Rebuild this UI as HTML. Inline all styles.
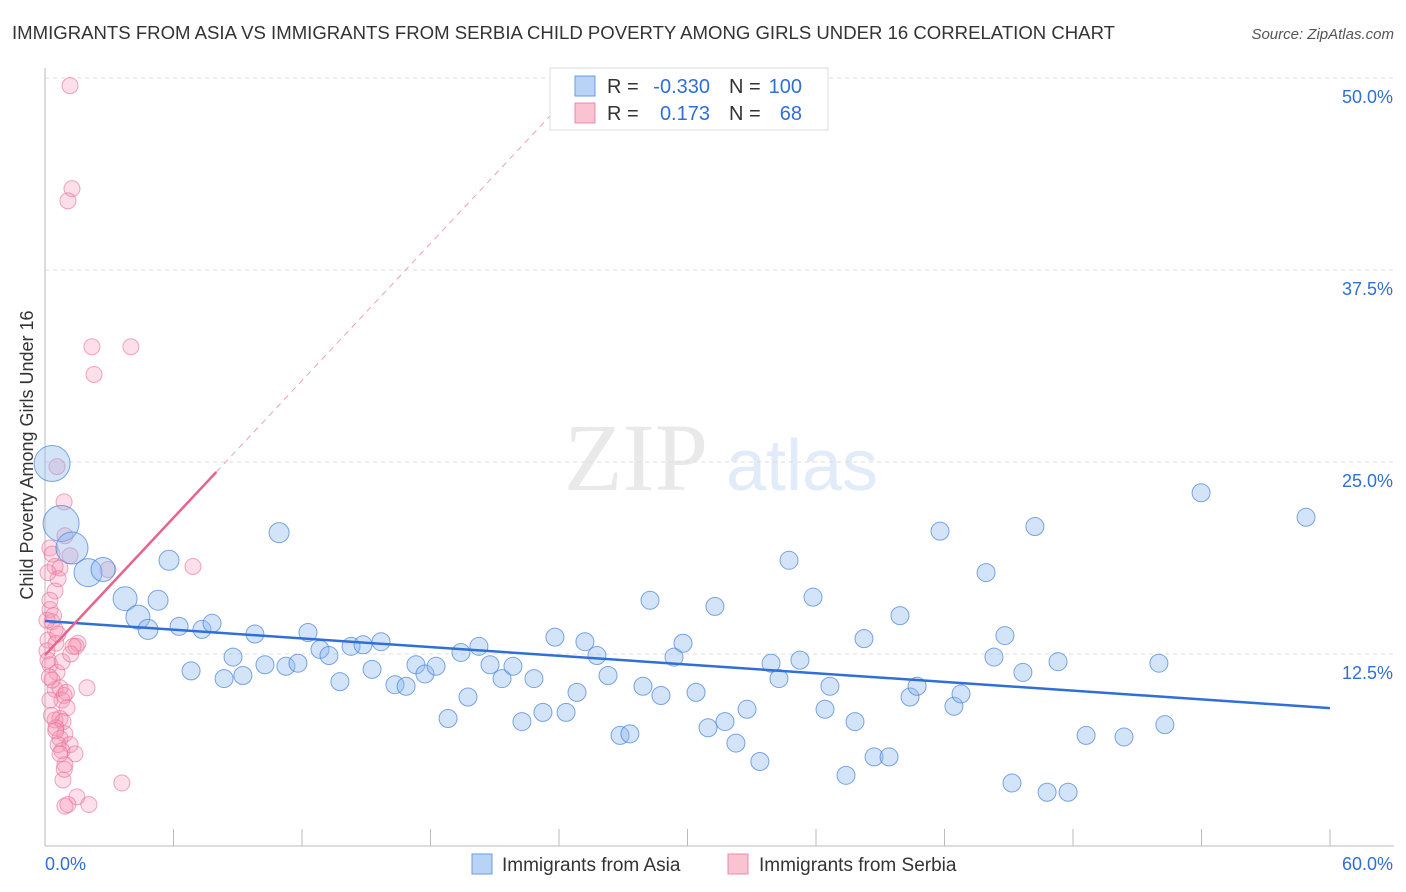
<!DOCTYPE html>
<html><head><meta charset="utf-8"><style>
body{margin:0;background:#fff;font-family:"Liberation Sans",sans-serif}
svg{display:block}
</style></head><body>
<svg id="chart" width="1406" height="892" xmlns="http://www.w3.org/2000/svg" font-family="Liberation Sans, sans-serif">
<text x="12" y="39" font-size="18" fill="#333" textLength="1103" lengthAdjust="spacingAndGlyphs">IMMIGRANTS FROM ASIA VS IMMIGRANTS FROM SERBIA CHILD POVERTY AMONG GIRLS UNDER 16 CORRELATION CHART</text>
<text x="1394" y="39" font-size="15" fill="#555" font-style="italic" text-anchor="end">Source: ZipAtlas.com</text>
<g opacity="0.25">
<text x="636" y="490" font-size="96" font-family="Liberation Serif, serif" fill="#aaa" text-anchor="middle">ZIP</text>
<text x="802" y="490" font-size="72" fill="#8ab4e8" text-anchor="middle">atlas</text>
</g>
<text transform="translate(33,455) rotate(-90)" font-size="18" fill="#333" text-anchor="middle">Child Poverty Among Girls Under 16</text>
<g id="grid"></g><g id="axes"></g><g id="pink"></g><g id="blue"></g><g id="lines"></g>
<g>
<rect x="550" y="68" width="278" height="62" fill="#fff" stroke="#ddd"/>
<rect x="575" y="76" width="20" height="20" fill="#b8d3f5" stroke="#6a9de0"/>
<rect x="575" y="103" width="20" height="20" fill="#f9c3d2" stroke="#ec8aa8"/>
<text x="607" y="93" font-size="20" fill="#333">R =</text>
<text x="710" y="93" font-size="20" fill="#2f6fd6" text-anchor="end">-0.330</text>
<text x="729" y="93" font-size="20" fill="#333">N =</text>
<text x="802" y="93" font-size="20" fill="#2f6fd6" text-anchor="end">100</text>
<text x="607" y="120" font-size="20" fill="#333">R =</text>
<text x="710" y="120" font-size="20" fill="#2f6fd6" text-anchor="end">0.173</text>
<text x="729" y="120" font-size="20" fill="#333">N =</text>
<text x="802" y="120" font-size="20" fill="#2f6fd6" text-anchor="end">68</text>
</g>
<g>
<rect x="472" y="854" width="20" height="20" fill="#b8d3f5" stroke="#6a9de0"/>
<text x="502" y="871" font-size="19" fill="#333">Immigrants from Asia</text>
<rect x="728" y="854" width="20" height="20" fill="#f9c3d2" stroke="#ec8aa8"/>
<text x="759" y="871" font-size="19" fill="#333">Immigrants from Serbia</text>
</g>
</svg>
<script>
const xTicks=[0,6,12,18,24,30,36,42,48,54,60];
const yTicks=[12.5,25,37.5,50];
const yTickLabels=["12.5%","25.0%","37.5%","50.0%"];
const blueX=[0.33,0.75,1.26,2.01,2.71,3.74,4.34,4.81,5.28,5.79,6.26,6.82,7.33,7.80,8.36,8.78,9.24,9.80,10.27,10.93,11.25,11.81,12.28,12.84,13.26,13.77,14.29,14.85,15.27,15.69,16.34,16.86,17.32,17.74,18.26,18.82,19.42,19.75,20.26,20.78,21.34,21.85,22.27,22.83,23.25,23.81,24.33,24.84,25.21,25.77,26.29,26.85,27.31,27.92,28.25,28.76,29.37,29.79,30.40,30.96,31.28,31.75,32.26,32.78,33.38,33.90,34.27,34.74,35.25,35.86,36.42,36.65,37.82,37.40,38.24,38.71,39.41,39.92,40.39,40.72,41.79,42.44,42.77,43.94,44.31,44.82,45.15,45.66,46.22,46.79,47.30,47.77,48.61,50.38,52.01,52.29,53.98,58.88];
const blueY=[24.9,21.0,19.4,17.8,18.0,16.1,14.9,14.1,16.0,18.6,14.3,11.4,14.1,14.5,10.9,12.3,11.1,13.8,11.8,20.4,11.7,11.9,13.9,12.8,12.4,10.7,13.0,13.1,11.5,13.3,10.5,10.4,11.8,11.2,11.7,8.3,12.6,9.7,13.0,11.8,10.9,11.7,8.1,10.9,8.7,13.6,8.7,10.0,13.3,12.4,11.1,7.2,7.3,10.4,16.0,9.8,12.3,13.2,10.0,7.7,15.6,8.1,6.7,8.9,5.5,11.9,10.9,18.6,12.1,16.2,8.9,10.4,8.1,4.6,13.5,5.8,5.8,15.0,9.7,10.4,20.5,9.1,9.9,17.8,12.3,13.7,4.1,11.3,20.8,3.5,12.0,3.5,7.2,7.1,11.9,7.9,23.0,21.4];
const blueR=[18,18,16,14,12,12,12,10,10,10,9,9,9,9,9,9,9,9,9,10,9,9,9,9,9,9,9,9,9,9,9,9,9,9,9,9,9,9,9,9,9,9,9,9,9,9,9,9,9,9,9,9,9,9,9,9,9,9,9,9,9,9,9,9,9,9,9,9,9,9,9,9,9,9,9,9,9,9,9,9,9,9,9,9,9,9,9,9,9,9,9,9,9,9,9,9,9,9];
const pinkX=[1.17,1.26,1.07,2.19,4.01,2.29,0.56,0.89,0.23,0.33,0.47,0.7,0.61,0.47,0.23,0.33,0.47,0.14,0.51,0.09,1.54,1.45,1.31,6.91,2.94,0.23,0.56,0.47,0.7,1.96,0.89,0.79,1.03,0.47,0.7,0.84,0.51,0.93,0.7,0.61,1.17,0.79,1.4,0.93,0.84,3.59,1.49,0.93,1.07,2.05,0.23,0.33,0.14,0.23,0.09,0.14,1.17,0.93,0.4,0.6,0.8,1.0,0.3,0.5,0.7,0.9,1.2,0.2];
const pinkY=[49.5,42.8,42.0,32.5,32.5,30.7,24.7,22.4,19.4,19.0,18.2,18.1,17.4,16.6,15.4,14.6,14.1,13.4,13.2,12.7,13.2,13.0,13.0,18.2,18.0,11.8,11.3,10.2,10.3,10.3,9.8,9.5,9.0,8.2,8.3,8.1,7.7,7.3,7.0,6.6,6.6,6.2,6.0,5.3,4.3,4.1,3.2,2.6,2.7,2.7,9.5,10.8,12.1,16.0,14.7,17.8,18.9,20.2,15.0,13.8,12.0,10.0,8.5,7.5,6.0,5.0,12.5,11.0];
const blueLine=[[0,14.65],[60,8.98]];
const pinkSolid=[[0,12.43],[8,24.35]];
const pinkDash=[[8,24.35],[24.5,48.9]];
const X=v=>45+v*21.417, Y=v=>846-v*15.36;
const NS="http://www.w3.org/2000/svg";
function mk(tag,attrs,parent){const e=document.createElementNS(NS,tag);for(const k in attrs)e.setAttribute(k,attrs[k]);document.getElementById(parent).appendChild(e);return e;}
yTicks.forEach((t,i)=>{
 const g=mk('line',{x1:45,x2:1394,y1:Y(t),y2:Y(t),stroke:'#ddd','stroke-dasharray':'4,4'},'grid');
 
 
 const l=mk('text',{x:1393,y:Y(t)+25,'font-size':18,fill:'#2f6fd6','text-anchor':'end'},'grid');
 l.textContent=yTickLabels[i];
 
 
});
const ax=mk('line',{x1:45,x2:45,y1:68,y2:846,stroke:'#bbb'},'axes');


const bx=mk('line',{x1:45,x2:1394,y1:846,y2:846,stroke:'#bbb'},'axes');


xTicks.forEach(t=>{
 const k=mk('line',{x1:X(t),x2:X(t),y1:829,y2:846,stroke:'#bbb'},'axes');
 
 
});
const xl0=mk('text',{x:45,y:870,'font-size':18,fill:'#2f6fd6'},'axes');xl0.textContent='0.0%';


const xl1=mk('text',{x:1393,y:870,'font-size':18,fill:'#2f6fd6','text-anchor':'end'},'axes');xl1.textContent='60.0%';


pinkX.forEach((v,i)=>{
 const c=mk('circle',{cx:X(v),cy:Y(pinkY[i]),r:8,fill:'rgba(245,150,180,0.3)',stroke:'rgba(230,110,150,0.6)','stroke-width':1},'pink');
 
 
});
blueX.forEach((v,i)=>{
 const c=mk('circle',{cx:X(v),cy:Y(blueY[i]),r:blueR[i]||9,fill:'rgba(140,185,240,0.38)',stroke:'rgba(70,130,215,0.7)','stroke-width':1},'blue');
 
 
});
const bl=mk('line',{x1:X(blueLine[0][0]),y1:Y(blueLine[0][1]),x2:X(blueLine[1][0]),y2:Y(blueLine[1][1]),stroke:'#2f6fd6','stroke-width':2.5},'lines');


const ps=mk('line',{x1:X(pinkSolid[0][0]),y1:Y(pinkSolid[0][1]),x2:X(pinkSolid[1][0]),y2:Y(pinkSolid[1][1]),stroke:'#e8638c','stroke-width':2.5},'lines');


const pd=mk('line',{x1:X(pinkDash[0][0]),y1:Y(pinkDash[0][1]),x2:X(pinkDash[1][0]),y2:Y(pinkDash[1][1]),stroke:'#f0a0b8','stroke-width':1,'stroke-dasharray':'6,5'},'lines');


</script>
</body></html>
